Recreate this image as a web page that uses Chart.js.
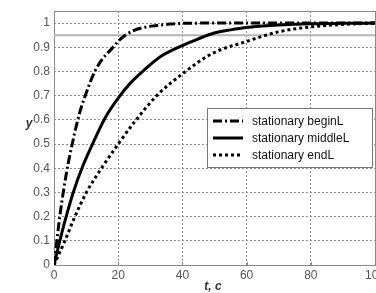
<!DOCTYPE html>
<html><head><meta charset="utf-8">
<script src="https://cdn.jsdelivr.net/npm/chart.js@4/dist/chart.umd.min.js"></script>
<style>html,body{margin:0;padding:0;background:#fff}#wrap{width:376px;height:293px;position:relative}</style>
</head><body><div id="wrap"><canvas id="c" width="376" height="293"></canvas></div>
<script>
const seriesNames = ["stationary beginL", "stationary middleL", "stationary endL"];
const beginT = [0, 2, 4, 6, 8, 10, 12.7, 15, 18.4, 20, 22, 24.6, 28, 32, 36, 40, 50, 60, 70, 80, 90, 100];
const beginY = [0, 0.22, 0.39, 0.52, 0.63, 0.71, 0.8, 0.85, 0.9, 0.925, 0.948, 0.968, 0.982, 0.99, 0.996, 0.999, 1, 1, 1, 1, 1, 1];
const middleT = [0, 2, 4, 6, 9, 12, 16, 20, 24, 28, 33, 39.6, 45, 49.4, 55, 59.7, 65, 70, 80, 90, 100];
const middleY = [0, 0.11, 0.21, 0.3, 0.41, 0.5, 0.61, 0.69, 0.755, 0.805, 0.86, 0.905, 0.935, 0.957, 0.972, 0.982, 0.988, 0.992, 0.997, 0.999, 1];
const endT = [0, 3.4, 6.5, 10.1, 14.8, 20, 25, 32, 40, 49.4, 59.7, 70, 80.4, 90.7, 100];
const endY = [0, 0.1, 0.2, 0.3, 0.4, 0.5, 0.59, 0.7, 0.79, 0.875, 0.923, 0.964, 0.985, 0.995, 1];
const thresholdT = [0, 100];
const thresholdY = [0.95, 0.95];
const xTicks = [0, 20, 40, 60, 80, 100];
const yTicks = [0, 0.1, 0.2, 0.3, 0.4, 0.5, 0.6, 0.7, 0.8, 0.9, 1];
const xLabel = "t, c";
const yLabel = "y";

const pts = (t, y) => t.map((v, i) => ({x: v, y: y[i]}));
const styles = [
  {borderDash: [9, 3, 2, 3], borderWidth: 3},
  {borderDash: [], borderWidth: 3},
  {borderDash: [3, 3], borderWidth: 3}
];
const font = "'Liberation Sans', Arial, sans-serif";

const frame = {
  id: 'frame',
  beforeDatasetsDraw(chart) {
    const {ctx, chartArea: a} = chart;
    ctx.save();
    ctx.strokeStyle = '#8a8a8a'; ctx.lineWidth = 1;
    ctx.strokeRect(a.left + 0.5, a.top + 0.5, a.right - a.left, a.bottom - a.top);
    const xs = chart.scales.x;
    xTicks.forEach(v => { const px = Math.round(xs.getPixelForValue(v)) + 0.5; ctx.beginPath(); ctx.moveTo(px, a.bottom); ctx.lineTo(px, a.bottom - 3); ctx.stroke(); });
    ctx.restore();
  },
  afterDraw(chart) {
    const {ctx} = chart;
    ctx.save();
    ctx.fillStyle = '#333';
    ctx.font = "italic bold 12px " + font;
    ctx.textAlign = 'center'; ctx.textBaseline = 'middle';
    ctx.fillText(xLabel, 213, 287);
    ctx.fillText(yLabel, 29, 124);
    const bx = 207.5, by = 108.5, bw = 165, bh = 59;
    ctx.fillStyle = '#fff'; ctx.fillRect(bx, by, bw, bh);
    ctx.strokeStyle = '#777'; ctx.lineWidth = 1; ctx.strokeRect(bx, by, bw, bh);
    const rows = [121, 138, 155];
    seriesNames.forEach((n, i) => {
      ctx.beginPath();
      ctx.strokeStyle = '#000'; ctx.lineWidth = styles[i].borderWidth;
      ctx.setLineDash(styles[i].borderDash);
      ctx.moveTo(213, rows[i]); ctx.lineTo(243, rows[i]); ctx.stroke();
      ctx.setLineDash([]);
      ctx.fillStyle = '#111'; ctx.font = "12px " + font;
      ctx.textAlign = 'left'; ctx.textBaseline = 'middle';
      ctx.fillText(n, 252, rows[i] + 0.5);
    });
    ctx.restore();
  }
};

new Chart(document.getElementById('c'), {
  type: 'line',
  data: {
    datasets: [
      {label: 'threshold', data: pts(thresholdT, thresholdY), borderColor: '#b4b4b4', borderWidth: 2, pointRadius: 0, order: 5},
      {label: seriesNames[0], data: pts(beginT, beginY), borderColor: '#000', borderWidth: styles[0].borderWidth, borderDash: styles[0].borderDash, pointRadius: 0, cubicInterpolationMode: 'monotone'},
      {label: seriesNames[1], data: pts(middleT, middleY), borderColor: '#000', borderWidth: styles[1].borderWidth, pointRadius: 0, cubicInterpolationMode: 'monotone'},
      {label: seriesNames[2], data: pts(endT, endY), borderColor: '#000', borderWidth: styles[2].borderWidth, borderDash: styles[2].borderDash, pointRadius: 0, cubicInterpolationMode: 'monotone'}
    ]
  },
  options: {
    responsive: false, animation: false, devicePixelRatio: 1,
    layout: {autoPadding: false, padding: {top: 11, right: 1, left: 0, bottom: 0}},
    plugins: {legend: {display: false}, tooltip: {enabled: false}},
    scales: {
      x: {
        type: 'linear', min: 0, max: 100,
        afterFit: s => { s.height = 28; s.paddingLeft = 0; s.paddingRight = 0; },
        afterBuildTicks: s => { s.ticks = xTicks.map(v => ({value: v})); },
        ticks: {padding: 3, color: '#555', font: {family: font, size: 12}, maxRotation: 0, callback: v => String(v)},
        grid: {drawTicks: false, color: c => (c.tick && (c.tick.value === 0 || c.tick.value === 100)) ? 'rgba(0,0,0,0)' : '#8c8c8c', lineWidth: 1},
        border: {display: false, dash: [2, 2]}
      },
      y: {
        min: 0, max: 1.05,
        afterFit: s => { s.width = 54; s.paddingTop = 0; s.paddingBottom = 0; },
        afterBuildTicks: s => { s.ticks = yTicks.map(v => ({value: v})); },
        ticks: {padding: 4, color: '#555', font: {family: font, size: 12}, callback: v => String(Math.round(v * 10) / 10)},
        grid: {drawTicks: false, color: c => (c.tick && c.tick.value === 0) ? 'rgba(0,0,0,0)' : '#8c8c8c', lineWidth: 1},
        border: {display: false, dash: [2, 2]}
      }
    }
  },
  plugins: [frame]
});
</script></body></html>
